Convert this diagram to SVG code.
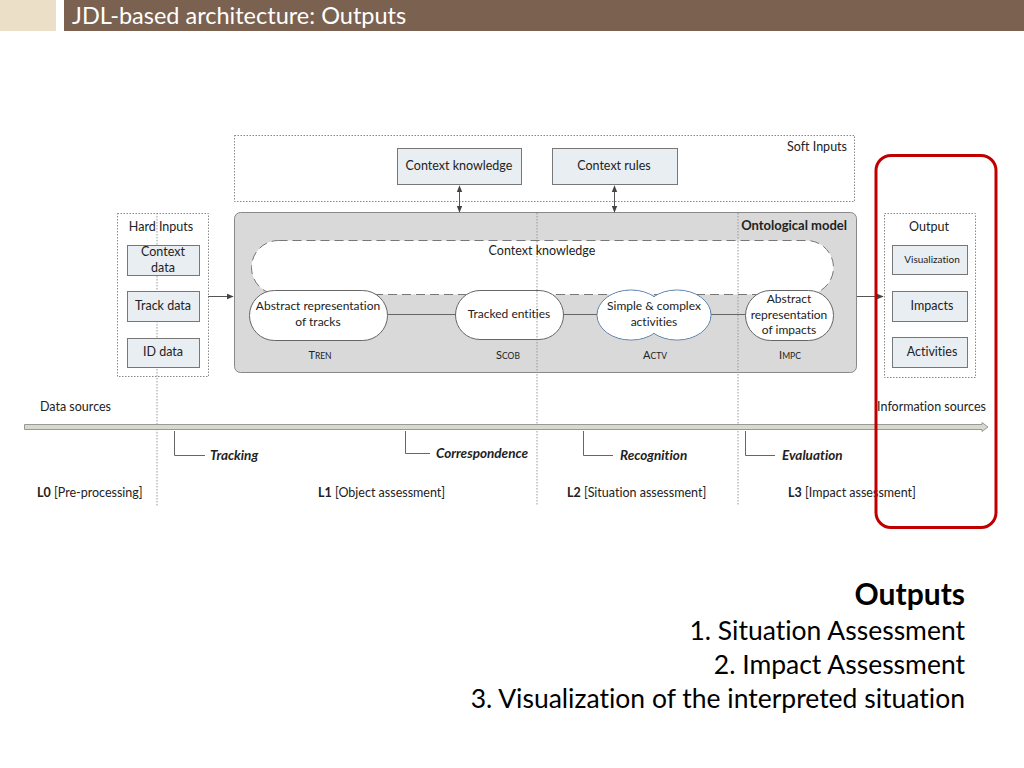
<svg xmlns="http://www.w3.org/2000/svg" width="1024" height="768" viewBox="0 0 1024 768">
<defs>
<style>
text{font-family:Lato,"Liberation Sans",sans-serif;fill:#222;font-variant-ligatures:none}
.box{fill:#e9eef3;stroke:#777;stroke-width:1}
.dot{fill:none;stroke:#888;stroke-width:1;stroke-dasharray:1.5 1.5}
.vdot{fill:none;stroke:#999;stroke-width:1;stroke-dasharray:1.5 1.5}
.t11{font-size:12px}
.t12{font-size:12.5px}
.lbl{font-size:13.5px;font-weight:bold;font-style:italic}
.pill{fill:#fff;stroke:#666;stroke-width:1}
.line{fill:none;stroke:#666;stroke-width:1}
.sc{font-size:11px}
.scs{font-size:8.5px}
.big{font-size:26.5px;fill:#000}
</style>
<marker id="ah" viewBox="0 0 10 10" refX="9" refY="5" markerWidth="7" markerHeight="7" orient="auto-start-reverse"><path d="M0,1 L10,5 L0,9 Z" fill="#444"/></marker>
</defs>
<rect width="1024" height="768" fill="#fff"/>
<g id="header">
<rect x="0" y="0" width="56" height="31" fill="#ebdfc7"/>
<rect x="64" y="0" width="960" height="31" fill="#7b6150"/>
<text x="72" y="24" style="font-size:23.5px;fill:#fff">JDL-based architecture: Outputs</text>
</g>
<g id="guides">
<line class="vdot" x1="157" y1="213" x2="157" y2="506"/>
<line class="vdot" x1="537" y1="212" x2="537" y2="506"/>
<line class="vdot" x1="738" y1="212" x2="738" y2="506"/>
</g>
<g id="soft-inputs">
<rect class="dot" x="234.5" y="135.5" width="620" height="66"/>
<text x="847" y="151" text-anchor="end" class="t12">Soft Inputs</text>
</g>
<g id="context-knowledge-input">
<rect class="box" x="397.5" y="148.5" width="124" height="36"/>
<text x="459" y="170" text-anchor="middle" class="t12">Context knowledge</text>
</g>
<g id="context-rules">
<rect class="box" x="552.5" y="148.5" width="125" height="36"/>
<text x="614" y="170" text-anchor="middle" class="t12">Context rules</text>
</g>
<g id="ontological-model">
<rect x="234.5" y="212.5" width="622" height="160" rx="6" fill="#d9d9d9" stroke="#888"/>
<line class="vdot" x1="537" y1="213" x2="537" y2="372"/>
<line class="vdot" x1="738" y1="213" x2="738" y2="372"/>
<text x="847" y="230" text-anchor="end" style="font-size:13px;font-weight:bold">Ontological model</text>
</g>
<g id="context-knowledge-model">
<rect x="251.5" y="240.5" width="582" height="54" rx="27" fill="#fff" stroke="#777" stroke-dasharray="9 5"/>
<line class="vdot" x1="537" y1="241" x2="537" y2="294"/>
<line class="vdot" x1="738" y1="241" x2="738" y2="294"/>
<text x="542" y="255" text-anchor="middle" class="t12">Context knowledge</text>
</g>
<g id="connectors">
<line class="line" x1="387" y1="314.5" x2="455" y2="314.5"/>
<line class="line" x1="563" y1="314.5" x2="597" y2="314.5"/>
<line class="line" x1="711" y1="314.5" x2="746" y2="314.5"/>
<line x1="459.5" y1="186" x2="459.5" y2="212" stroke="#555" marker-start="url(#ah)" marker-end="url(#ah)"/>
<line x1="614.5" y1="186" x2="614.5" y2="212" stroke="#555" marker-start="url(#ah)" marker-end="url(#ah)"/>
<line x1="208" y1="296.5" x2="233" y2="296.5" stroke="#555" marker-end="url(#ah)"/>
<line x1="857" y1="296.5" x2="883" y2="296.5" stroke="#555" marker-end="url(#ah)"/>
</g>
<g id="tren">
<rect class="pill" x="249.5" y="290.5" width="138" height="50" rx="25"/>
<text x="318" y="310" text-anchor="middle" class="t11">Abstract representation</text>
<text x="318" y="326" text-anchor="middle" class="t11">of tracks</text>
<text x="320" y="359" text-anchor="middle" class="sc">T<tspan class="scs">REN</tspan></text>
</g>
<g id="scob">
<rect class="pill" x="455.5" y="290.5" width="108" height="49" rx="24.5"/>
<line class="vdot" x1="537" y1="291" x2="537" y2="339"/>
<text x="509" y="318" text-anchor="middle" class="t11">Tracked entities</text>
<text x="508" y="359" text-anchor="middle" class="sc">S<tspan class="scs">COB</tspan></text>
</g>
<g id="actv">
<ellipse cx="631" cy="315" rx="34" ry="25" fill="#fff" stroke="#5b7fae"/>
<ellipse cx="677" cy="315" rx="34" ry="25" fill="#fff" stroke="#5b7fae"/>
<ellipse cx="631" cy="315" rx="33.3" ry="24.3" fill="#fff"/>
<ellipse cx="677" cy="315" rx="33.3" ry="24.3" fill="#fff"/>
<text x="654" y="310" text-anchor="middle" class="t11">Simple &amp; complex</text>
<text x="654" y="326" text-anchor="middle" class="t11">activities</text>
<text x="655" y="359" text-anchor="middle" class="sc">A<tspan class="scs">CTV</tspan></text>
</g>
<g id="impc">
<rect class="pill" x="745.5" y="290.5" width="88" height="50" rx="25"/>
<text x="789" y="303" text-anchor="middle" class="t11">Abstract</text>
<text x="789" y="319" text-anchor="middle" class="t11">representation</text>
<text x="789" y="334" text-anchor="middle" class="t11">of impacts</text>
<text x="790" y="359" text-anchor="middle" class="sc">I<tspan class="scs">MPC</tspan></text>
</g>
<g id="hard-inputs">
<rect class="dot" x="117.5" y="213.5" width="91" height="163"/>
<text x="161" y="231" text-anchor="middle" class="t12">Hard Inputs</text>
<rect class="box" x="127.5" y="245.5" width="72" height="30"/>
<text x="163" y="256" text-anchor="middle" class="t12">Context</text>
<text x="163" y="272" text-anchor="middle" class="t12">data</text>
<rect class="box" x="127.5" y="291.5" width="72" height="30"/>
<text x="163" y="310" text-anchor="middle" class="t12">Track data</text>
<rect class="box" x="127.5" y="338.5" width="72" height="29"/>
<text x="163" y="356" text-anchor="middle" class="t12">ID data</text>
</g>
<g id="output">
<rect class="dot" x="884.5" y="213.5" width="91" height="164"/>
<text x="929" y="231" text-anchor="middle" class="t12">Output</text>
<rect class="box" x="892.5" y="245.5" width="75" height="29"/>
<text x="932" y="263" text-anchor="middle" style="font-size:10px">Visualization</text>
<rect class="box" x="892.5" y="291.5" width="75" height="30"/>
<text x="932" y="310" text-anchor="middle" class="t12">Impacts</text>
<rect class="box" x="892.5" y="337.5" width="75" height="30"/>
<text x="932" y="356" text-anchor="middle" class="t12">Activities</text>
</g>
<g id="timeline">
<text x="40" y="411" class="t12">Data sources</text>
<text x="986" y="411" text-anchor="end" class="t12">Information sources</text>
<path d="M24.5,424.5 H982 V422.5 L988,427 L982,431.5 V429.5 H24.5 Z" fill="#d8d8cc" stroke="#999"/>
<path d="M174.5,431 V455.5 H205" class="line"/>
<text x="210" y="460" class="lbl">Tracking</text>
<path d="M405.5,431 V453.5 H430" class="line"/>
<text x="436" y="458" class="lbl">Correspondence</text>
<path d="M583.5,431 V455.5 H613" class="line"/>
<text x="620" y="460" class="lbl">Recognition</text>
<path d="M745.5,431 V455.5 H775" class="line"/>
<text x="782" y="460" class="lbl">Evaluation</text>
<text x="37" y="497" class="t12"><tspan font-weight="bold">L0</tspan> [Pre-processing]</text>
<text x="318" y="497" class="t12"><tspan font-weight="bold">L1</tspan> [Object assessment]</text>
<text x="567" y="497" class="t12"><tspan font-weight="bold">L2</tspan> [Situation assessment]</text>
<text x="788" y="497" class="t12"><tspan font-weight="bold">L3</tspan> [Impact assessment]</text>
</g>
<g id="highlight">
<rect x="876" y="155.5" width="120" height="372" rx="15" fill="none" stroke="#c00000" stroke-width="3"/>
</g>
<g id="outputs-text">
<text x="965" y="605" text-anchor="end" style="font-size:30px;font-weight:bold;fill:#000">Outputs</text>
<text x="965" y="640" text-anchor="end" class="big">1. Situation Assessment</text>
<text x="965" y="674" text-anchor="end" class="big">2. Impact Assessment</text>
<text x="965" y="708" text-anchor="end" class="big">3. Visualization of the interpreted situation</text>
</g>
</svg>
